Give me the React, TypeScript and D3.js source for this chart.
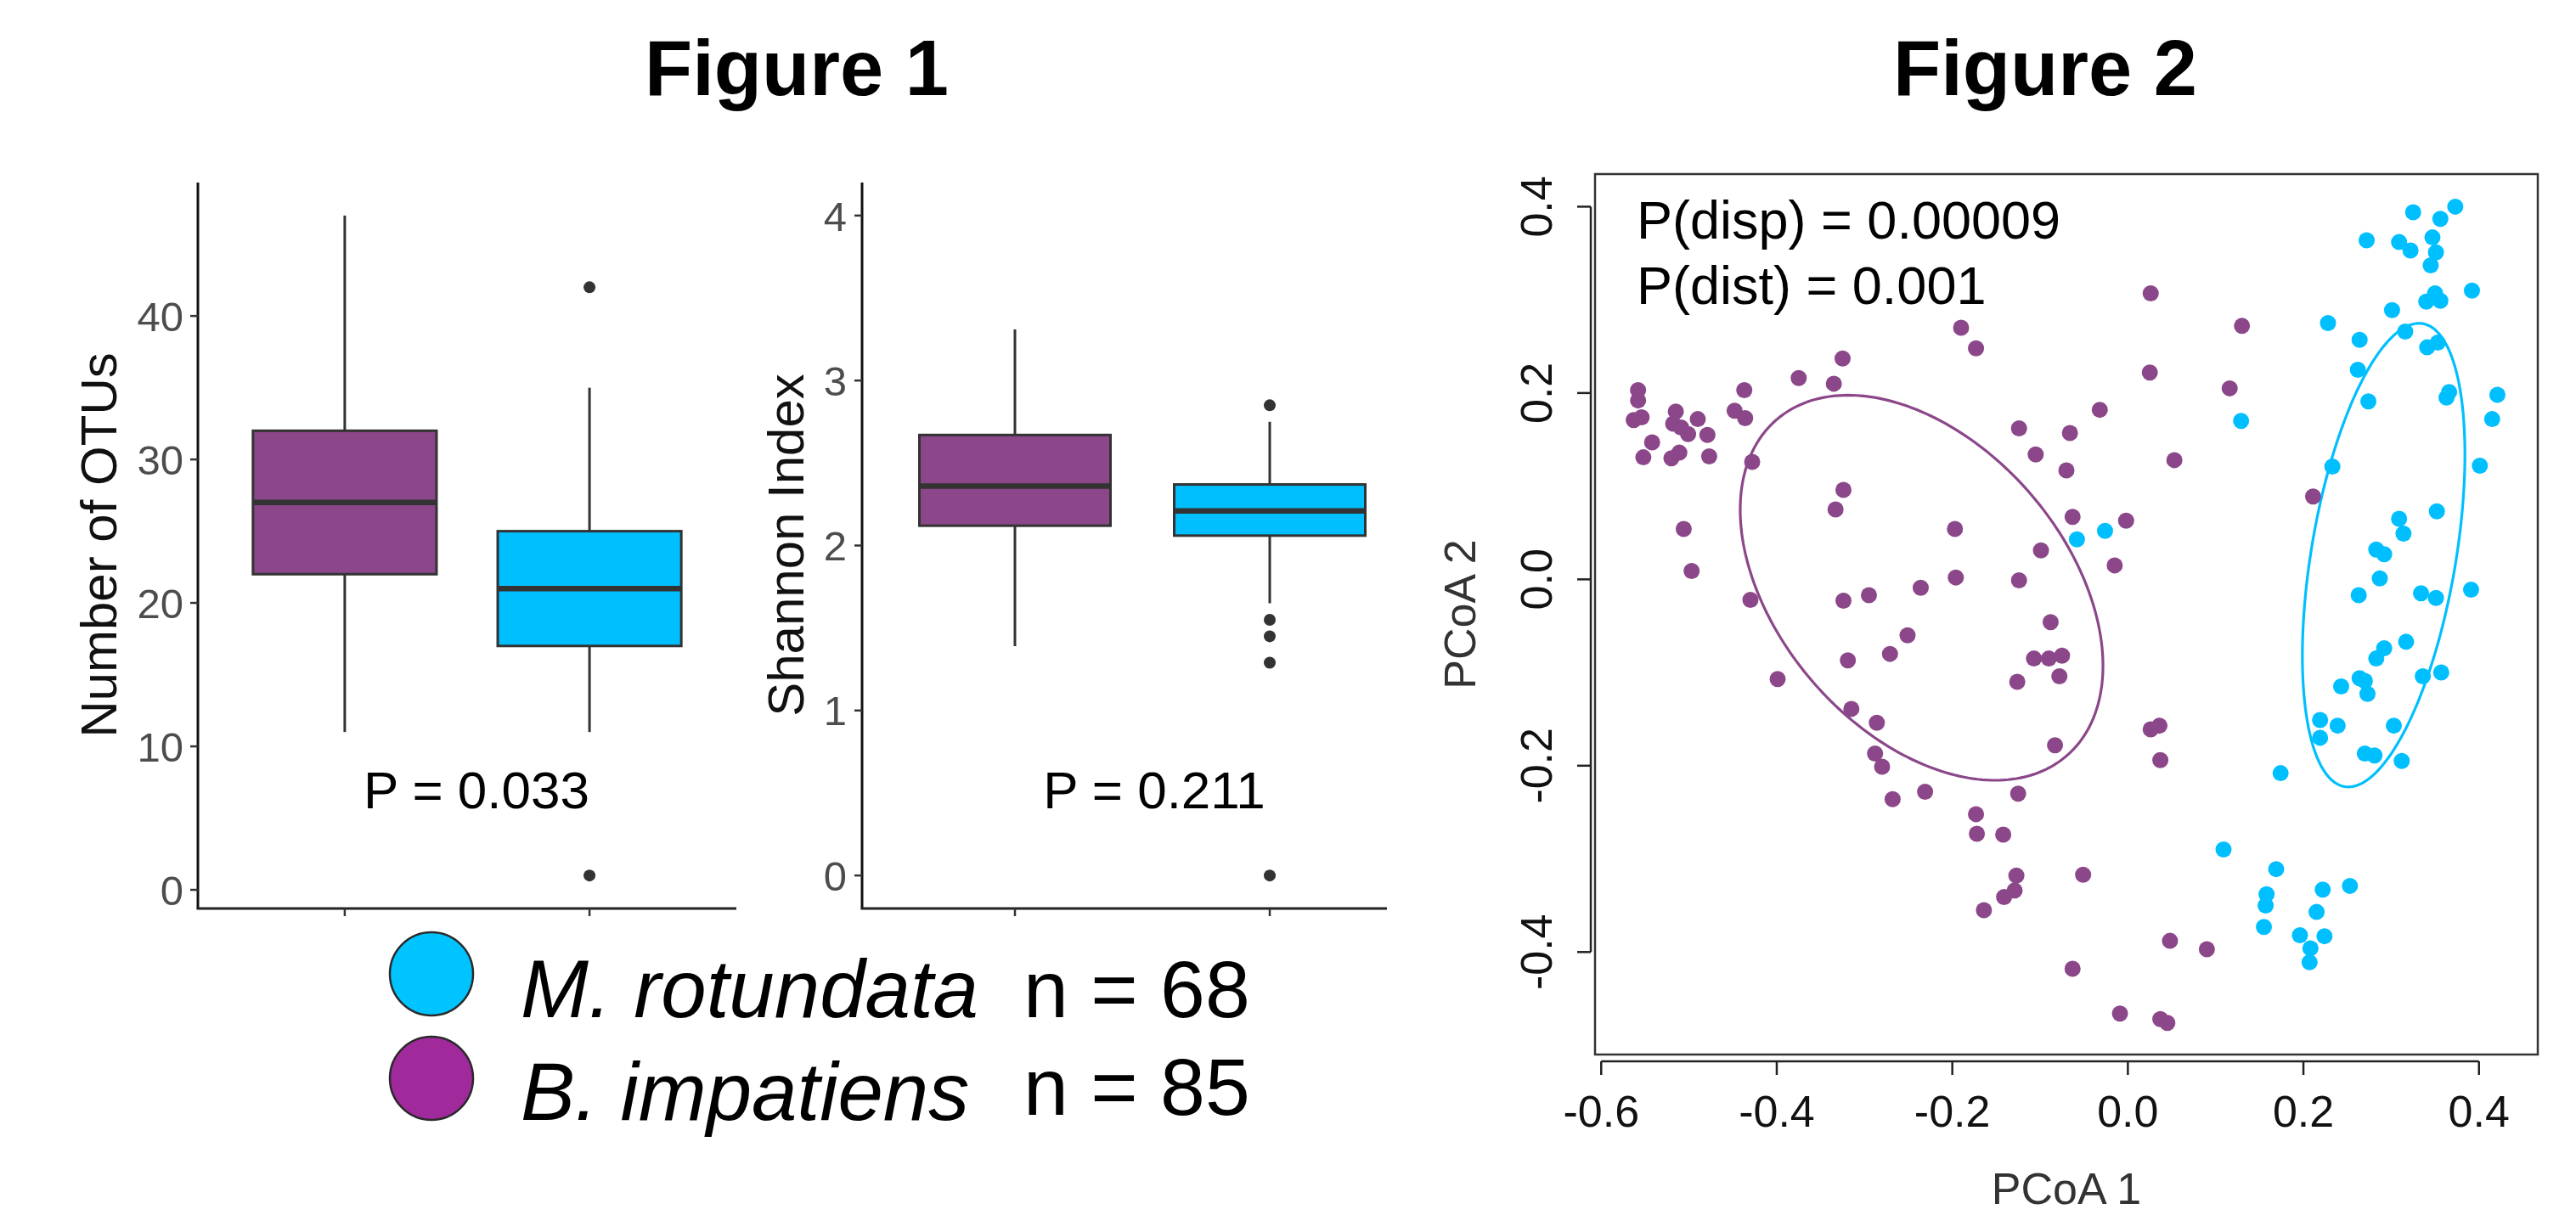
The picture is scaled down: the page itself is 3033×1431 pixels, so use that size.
import React from 'react';
import * as d3 from 'd3';

const FONT = "'Liberation Sans', Arial, Helvetica, sans-serif";
const PURPLE = '#8B4789';
const BLUE = '#00BFFF';
const BOX_STROKE = '#333333';

// ---------- Figure 1 data ----------
const species = ['B. impatiens', 'M. rotundata'];
const speciesColors = [PURPLE, BLUE];
const legendSpecies = ['M. rotundata', 'B. impatiens'];
const legendN = [68, 85];
const legendColors = ['#00C4FF', '#A0299C'];

const otuLower = [11, 11];
const otuQ1 = [22, 17];
const otuMedian = [27, 21];
const otuQ3 = [32, 25];
const otuUpper = [47, 35];
const otuOutliers = [[], [42, 1]];
const otuTicks = [0, 10, 20, 30, 40];

const shLower = [1.39, 1.65];
const shQ1 = [2.12, 2.06];
const shMedian = [2.36, 2.21];
const shQ3 = [2.67, 2.37];
const shUpper = [3.31, 2.75];
const shOutliers = [[], [2.85, 1.55, 1.45, 1.29, 0]];
const shTicks = [0, 1, 2, 3, 4];

// ---------- Figure 2 data ----------
const pcoaTicksX = [-0.6, -0.4, -0.2, 0, 0.2, 0.4];
const pcoaTicksY = [-0.4, -0.2, 0, 0.2, 0.4];

const bimpPoints: [number, number][] = [
  [-0.325, 0.237], [-0.375, 0.216], [-0.335, 0.21], [-0.437, 0.203], [-0.558, 0.203], [-0.558, 0.192],
  [-0.563, 0.171], [-0.554, 0.174], [-0.515, 0.18], [-0.49, 0.172], [-0.518, 0.167], [-0.509, 0.163],
  [-0.501, 0.156], [-0.479, 0.155], [-0.448, 0.181], [-0.436, 0.173], [-0.542, 0.147], [-0.552, 0.131],
  [-0.52, 0.13], [-0.511, 0.136], [-0.477, 0.132], [-0.428, 0.126], [-0.324, 0.096], [-0.333, 0.075],
  [-0.506, 0.054], [-0.497, 0.009], [-0.43, -0.022], [-0.324, -0.023], [-0.295, -0.017],
  [0.026, 0.307], [-0.19, 0.27], [-0.173, 0.248], [0.025, 0.222], [-0.032, 0.182], [-0.124, 0.162],
  [-0.066, 0.157], [-0.105, 0.134], [-0.07, 0.117], [0.053, 0.128], [-0.063, 0.067], [-0.002, 0.063],
  [-0.197, 0.054], [-0.099, 0.031], [-0.015, 0.015], [-0.196, 0.002], [-0.124, -0.001], [-0.236, -0.009],
  [0.13, 0.272], [0.116, 0.205], [0.211, 0.089],
  [-0.319, -0.087], [-0.399, -0.107], [-0.271, -0.08], [-0.315, -0.139], [-0.286, -0.154], [-0.288, -0.187],
  [-0.28, -0.201], [-0.268, -0.236],
  [-0.251, -0.06], [-0.088, -0.046], [-0.107, -0.085], [-0.09, -0.085], [-0.075, -0.082], [-0.078, -0.104],
  [-0.126, -0.11], [-0.083, -0.178], [0.026, -0.161], [0.036, -0.157], [0.037, -0.194], [-0.231, -0.228],
  [-0.125, -0.23], [-0.173, -0.252], [-0.172, -0.273], [-0.142, -0.274], [-0.127, -0.318], [-0.129, -0.334],
  [-0.141, -0.341], [-0.164, -0.355], [-0.051, -0.317], [0.048, -0.388], [-0.063, -0.418], [-0.009, -0.466],
  [0.037, -0.472], [0.045, -0.476],
  [0.09, -0.397],
];

const mrotPoints: [number, number][] = [
  [-0.058, 0.043], [-0.026, 0.052],
  [0.373, 0.4], [0.325, 0.394], [0.356, 0.387], [0.272, 0.364], [0.309, 0.362], [0.322, 0.353],
  [0.347, 0.367], [0.351, 0.351], [0.345, 0.337], [0.392, 0.31], [0.35, 0.307], [0.34, 0.298],
  [0.356, 0.299], [0.301, 0.289], [0.228, 0.275], [0.316, 0.266], [0.264, 0.257], [0.341, 0.249],
  [0.353, 0.254], [0.262, 0.225], [0.366, 0.201], [0.363, 0.195], [0.421, 0.198], [0.274, 0.191],
  [0.129, 0.17], [0.415, 0.172], [0.233, 0.121], [0.401, 0.122], [0.352, 0.073], [0.309, 0.065],
  [0.314, 0.049], [0.283, 0.032], [0.292, 0.027], [0.287, 0.001], [0.263, -0.017], [0.334, -0.015],
  [0.351, -0.02], [0.391, -0.011],
  [0.317, -0.067], [0.292, -0.074], [0.283, -0.085], [0.264, -0.106], [0.27, -0.109], [0.243, -0.115],
  [0.273, -0.123], [0.336, -0.104], [0.357, -0.1], [0.219, -0.151], [0.219, -0.17], [0.239, -0.157],
  [0.303, -0.157], [0.27, -0.187], [0.281, -0.189], [0.312, -0.195], [0.174, -0.208], [0.109, -0.29],
  [0.169, -0.311], [0.158, -0.338], [0.157, -0.35], [0.155, -0.373], [0.222, -0.333], [0.253, -0.329],
  [0.215, -0.357], [0.196, -0.382], [0.224, -0.383], [0.208, -0.396], [0.207, -0.411],
];

const bimpEllipse = { cx: -0.235, cy: -0.009, sxx: 0.0427, syy: 0.0427, sxy: -0.0173 };
const mrotEllipse = { cx: 0.2914, cy: 0.026, sxx: 0.00857, syy: 0.0619, sxy: 0.01 };

// ---------- helpers ----------
type BoxProps = {
  xRange: [number, number];
  axisEndU: number;
  yDomain: [number, number];
  ticks: number[];
  lower: number[]; q1: number[]; med: number[]; q3: number[]; upper: number[]; outliers: number[][];
  title: string; titleX: number; labelRight: number;
  pText: string; pX: number;
};

function BoxPanel(p: BoxProps) {
  const x = d3.scaleLinear().domain([0.4, 2.6]).range(p.xRange);
  const y = d3.scaleLinear().domain(p.yDomain).range([1070, 215]);
  const halfW = 0.375;
  const x0 = p.xRange[0];
  return (
    <g>
      {/* axes */}
      <line x1={x0} x2={x0} y1={215} y2={1070} stroke="#111" strokeWidth={3} />
      <line x1={x0 - 1.5} x2={x(p.axisEndU)} y1={1070} y2={1070} stroke="#222" strokeWidth={3} />
      {p.ticks.map((t) => (
        <g key={t}>
          <line x1={x0 - 9} x2={x0} y1={y(t)} y2={y(t)} stroke="#333" strokeWidth={2.5} />
          <text x={p.labelRight} y={y(t)} dy="0.36em" textAnchor="end" fontSize={49} fill="#4D4D4D" fontFamily={FONT}>
            {t}
          </text>
        </g>
      ))}
      {species.map((s, i) => (
        <line key={s} x1={x(i + 1)} x2={x(i + 1)} y1={1070} y2={1079} stroke="#333" strokeWidth={2.5} />
      ))}
      {/* boxes */}
      {species.map((s, i) => {
        const cx = x(i + 1);
        return (
          <g key={s}>
            <line x1={cx} x2={cx} y1={y(p.q3[i])} y2={y(p.upper[i])} stroke={BOX_STROKE} strokeWidth={3} />
            <line x1={cx} x2={cx} y1={y(p.q1[i])} y2={y(p.lower[i])} stroke={BOX_STROKE} strokeWidth={3} />
            <rect
              x={x(i + 1 - halfW)}
              width={x(i + 1 + halfW) - x(i + 1 - halfW)}
              y={y(p.q3[i])}
              height={y(p.q1[i]) - y(p.q3[i])}
              fill={speciesColors[i]}
              stroke={BOX_STROKE}
              strokeWidth={3}
            />
            <line
              x1={x(i + 1 - halfW)}
              x2={x(i + 1 + halfW)}
              y1={y(p.med[i])}
              y2={y(p.med[i])}
              stroke={BOX_STROKE}
              strokeWidth={6.5}
            />
            {p.outliers[i].map((o, k) => (
              <circle key={k} cx={cx} cy={y(o)} r={7} fill="#333" />
            ))}
          </g>
        );
      })}
      <text
        transform={`translate(${p.titleX},642) rotate(-90)`}
        textAnchor="middle"
        fontSize={60}
        fill="#111"
        fontFamily={FONT}
      >
        {p.title}
      </text>
      <text x={p.pX} y={952} textAnchor="middle" fontSize={62} fill="#000" fontFamily={FONT}>
        {p.pText}
      </text>
    </g>
  );
}

function ellipsePath(e: { cx: number; cy: number; sxx: number; syy: number; sxy: number },
  xs: d3.ScaleLinear<number, number>, ys: d3.ScaleLinear<number, number>) {
  const l11 = Math.sqrt(e.sxx);
  const l21 = e.sxy / l11;
  const l22 = Math.sqrt(e.syy - l21 * l21);
  const pts = d3.range(0, 240).map((k) => {
    const t = (k / 240) * Math.PI * 2;
    return [e.cx + l11 * Math.cos(t), e.cy + l21 * Math.cos(t) + l22 * Math.sin(t)] as [number, number];
  });
  const line = d3
    .line<[number, number]>()
    .x((d) => xs(d[0]))
    .y((d) => ys(d[1]))
    .curve(d3.curveLinearClosed);
  return line(pts) || '';
}

function PcoaPanel() {
  const xs = d3.scaleLinear().domain([-0.608, 0.467]).range([1877, 2988]);
  const ys = d3.scaleLinear().domain([-0.51, 0.435]).range([1242, 205]);
  const fmt = (v: number) => v.toFixed(1);
  const axY = 1250;
  const axX = 1873;
  return (
    <g>
      <rect x={1878} y={205} width={2988 - 1878} height={1242 - 205} fill="none" stroke="#333" strokeWidth={2.5} />
      {/* x axis */}
      <line x1={xs(-0.6)} x2={xs(0.4)} y1={axY} y2={axY} stroke="#222" strokeWidth={2.5} />
      {pcoaTicksX.map((t) => (
        <g key={t}>
          <line x1={xs(t)} x2={xs(t)} y1={axY} y2={axY + 16} stroke="#222" strokeWidth={2.5} />
          <text x={xs(t)} y={1327} textAnchor="middle" fontSize={52} fill="#111" fontFamily={FONT}>
            {fmt(t)}
          </text>
        </g>
      ))}
      {/* y axis */}
      <line x1={axX} x2={axX} y1={ys(-0.4)} y2={ys(0.4)} stroke="#222" strokeWidth={2.5} />
      {pcoaTicksY.map((t) => (
        <g key={t}>
          <line x1={axX - 16} x2={axX} y1={ys(t)} y2={ys(t)} stroke="#222" strokeWidth={2.5} />
          <text
            transform={`translate(1827,${ys(t)}) rotate(-90)`}
            textAnchor="middle"
            fontSize={52}
            fill="#111"
            fontFamily={FONT}
          >
            {fmt(t)}
          </text>
        </g>
      ))}
      <text x={(1878 + 2988) / 2} y={1418} textAnchor="middle" fontSize={52} fill="#333" fontFamily={FONT}>
        PCoA 1
      </text>
      <text
        transform={`translate(1737,${(205 + 1242) / 2}) rotate(-90)`}
        textAnchor="middle"
        fontSize={52}
        fill="#333"
        fontFamily={FONT}
      >
        PCoA 2
      </text>
      {/* ellipses */}
      <path d={ellipsePath(bimpEllipse, xs, ys)} fill="none" stroke={PURPLE} strokeWidth={3.2} />
      <path d={ellipsePath(mrotEllipse, xs, ys)} fill="none" stroke={BLUE} strokeWidth={3.2} />
      {/* points */}
      {bimpPoints.map((d, i) => (
        <circle key={'b' + i} cx={xs(d[0])} cy={ys(d[1])} r={9.5} fill={PURPLE} />
      ))}
      {mrotPoints.map((d, i) => (
        <circle key={'m' + i} cx={xs(d[0])} cy={ys(d[1])} r={9.5} fill={BLUE} />
      ))}
      <text x={1927} y={281} fontSize={63} fill="#000" fontFamily={FONT}>
        P(disp) = 0.00009
      </text>
      <text x={1927} y={358} fontSize={63} fill="#000" fontFamily={FONT}>
        P(dist) = 0.001
      </text>
    </g>
  );
}

function Legend() {
  const rowY = [1147, 1270];
  const textBase = [1198, 1319];
  const nBase = [1198, 1313];
  return (
    <g>
      {legendSpecies.map((s, i) => (
        <g key={s}>
          <circle cx={508} cy={rowY[i]} r={49} fill={legendColors[i]} stroke="#2a2a2a" strokeWidth={2.5} />
          <text x={613} y={textBase[i]} fontSize={96} fontStyle="italic" fill="#000" fontFamily={FONT}>
            {s}
          </text>
          <text x={1205} y={nBase[i]} fontSize={95} fill="#000" fontFamily={FONT}>
            {`n = ${legendN[i]}`}
          </text>
        </g>
      ))}
    </g>
  );
}

export default function App() {
  return (
    <svg
      width={3033}
      height={1431}
      viewBox="0 0 3033 1431"
      style={{ position: 'absolute', left: 0, top: 0, display: 'block', background: '#fff' }}
    >
      <rect x={0} y={0} width={3033} height={1431} fill="#fff" />
      <text x={938} y={112} textAnchor="middle" fontSize={92} fontWeight="bold" fill="#000" fontFamily={FONT}>
        Figure 1
      </text>
      <text x={2408} y={112} textAnchor="middle" fontSize={92} fontWeight="bold" fill="#000" fontFamily={FONT}>
        Figure 2
      </text>
      <BoxPanel
        xRange={[233, 867]}
        axisEndU={2.6}
        yDomain={[-1.3, 49.3]}
        ticks={otuTicks}
        lower={otuLower} q1={otuQ1} med={otuMedian} q3={otuQ3} upper={otuUpper} outliers={otuOutliers}
        title="Number of OTUs" titleX={137} labelRight={216}
        pText="P = 0.033" pX={561}
      />
      <BoxPanel
        xRange={[1015, 1675]}
        axisEndU={2.46}
        yDomain={[-0.2, 4.2]}
        ticks={shTicks}
        lower={shLower} q1={shQ1} med={shMedian} q3={shQ3} upper={shUpper} outliers={shOutliers}
        title="Shannon Index" titleX={946} labelRight={997}
        pText="P = 0.211" pX={1359}
      />
      <PcoaPanel />
      <Legend />
    </svg>
  );
}
